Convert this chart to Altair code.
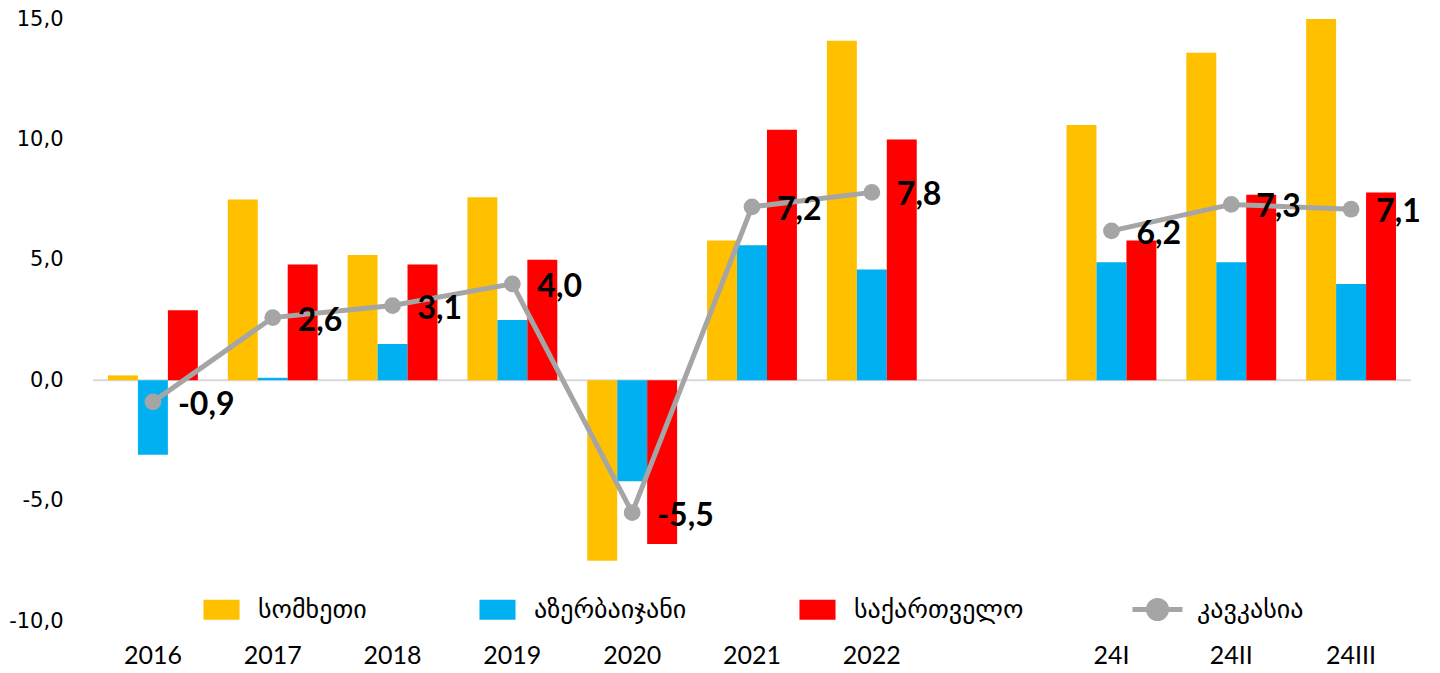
import altair as alt
import pandas as pd

categories = ["2016", "2017", "2018", "2019", "2020", "2021", "2022", " ", "24I", "24II", "24III"]
periods = ["2016", "2017", "2018", "2019", "2020", "2021", "2022", "24I", "24II", "24III"]
countries = ["სომხეთი", "აზერბაიჯანი", "საქართველო"]
country_colors = ["#FFC000", "#00B0F0", "#FF0000"]
armenia = [0.2, 7.5, 5.2, 7.6, -7.5, 5.8, 14.1, 10.6, 13.6, 15.0]
azerbaijan = [-3.1, 0.1, 1.5, 2.5, -4.2, 5.6, 4.6, 4.9, 4.9, 4.0]
georgia = [2.9, 4.8, 4.8, 5.0, -6.8, 10.4, 10.0, 5.8, 7.7, 7.8]
line_name = "კავკასია"
caucasus = [-0.9, 2.6, 3.1, 4.0, -5.5, 7.2, 7.8, 6.2, 7.3, 7.1]
segments = [1, 1, 1, 1, 1, 1, 1, 2, 2, 2]

rows = []
for name, vals in zip(countries, [armenia, azerbaijan, georgia]):
    for p, v in zip(periods, vals):
        rows.append({"period": p, "country": name, "value": v})
bars_df = pd.DataFrame(rows)

line_df = pd.DataFrame({
    "period": periods,
    "value": caucasus,
    "seg": segments,
    "name": line_name,
    "label": [f"{v:.1f}".replace(".", ",") for v in caucasus],
})

x_enc = alt.X(
    "period:N",
    scale=alt.Scale(domain=categories, paddingInner=0.25, paddingOuter=0.125),
    axis=alt.Axis(title=None, domain=False, ticks=False, labelAngle=0,
                  labelFont="Lato", labelFontSize=25, labelColor="black",
                  labelPadding=22),
)
y_enc = alt.Y(
    "value:Q",
    scale=alt.Scale(domain=[-10, 15], nice=False, zero=False),
    axis=alt.Axis(title=None, domain=False, ticks=False, grid=False,
                  values=[-10, -5, 0, 5, 10, 15],
                  labelExpr="replace(replace(format(datum.value, '.1f'), '.', ','), '\u2212', '-')",
                  labelFont="DejaVu Sans", labelFontSize=21, labelColor="black",
                  labelPadding=30),
)

bars = alt.Chart(bars_df).mark_bar().encode(
    x=x_enc,
    y=y_enc,
    xOffset=alt.XOffset("country:N", sort=countries, scale=alt.Scale(domain=countries, paddingInner=0)),
    color=alt.Color(
        "country:N",
        sort=countries,
        scale=alt.Scale(domain=countries, range=country_colors),
        legend=alt.Legend(title=None, orient="none", legendX=110, legendY=572,
                          direction="horizontal",
                          symbolType="M-1,-0.55H1V0.55H-1Z", symbolSize=1300,
                          symbolStrokeWidth=0, symbolOpacity=1,
                          labelFont="DejaVu Sans", labelFontSize=26, labelColor="black",
                          labelLimit=0, labelOffset=18, columnPadding=112, padding=0),
    ),
)

zero = alt.Chart(pd.DataFrame({"z": [0]})).mark_rule(color="#D9D9D9", strokeWidth=2).encode(
    y=alt.Y("z:Q")
)

line = alt.Chart(line_df).mark_line(strokeWidth=5).encode(
    x=x_enc,
    y=y_enc,
    detail="seg:N",
    stroke=alt.Stroke(
        "name:N",
        scale=alt.Scale(domain=[line_name], range=["#A5A5A5"]),
        legend=alt.Legend(title=None, orient="none", legendX=1037, legendY=563,
                          symbolType="M-1,0H1M-0.36,0A0.36,0.36 0 1,0 0.36,0A0.36,0.36 0 1,0 -0.36,0",
                          symbolSize=2500, symbolStrokeWidth=5,
                          symbolFillColor="#A5A5A5",
                          labelFont="DejaVu Sans", labelFontSize=26, labelColor="black",
                          labelLimit=0, labelOffset=12, padding=0),
    ),
)

pts = alt.Chart(line_df).mark_point(filled=True, size=280, color="#A5A5A5", opacity=1).encode(
    x=x_enc, y=y_enc
)

labels = alt.Chart(line_df).mark_text(align="left", baseline="middle", dx=25, dy=3,
                                      font="Lato", fontSize=32, fontWeight="bold",
                                      color="black").encode(
    x=x_enc, y=y_enc, text="label:N"
)

chart = alt.layer(zero, bars, line, pts, labels).resolve_scale(
    color="independent", stroke="independent"
).properties(
    width=1318, height=602, padding=0, background="white"
).configure_view(stroke=None)

chart.save("out.html", embed_options={"renderer": "svg", "actions": False})
